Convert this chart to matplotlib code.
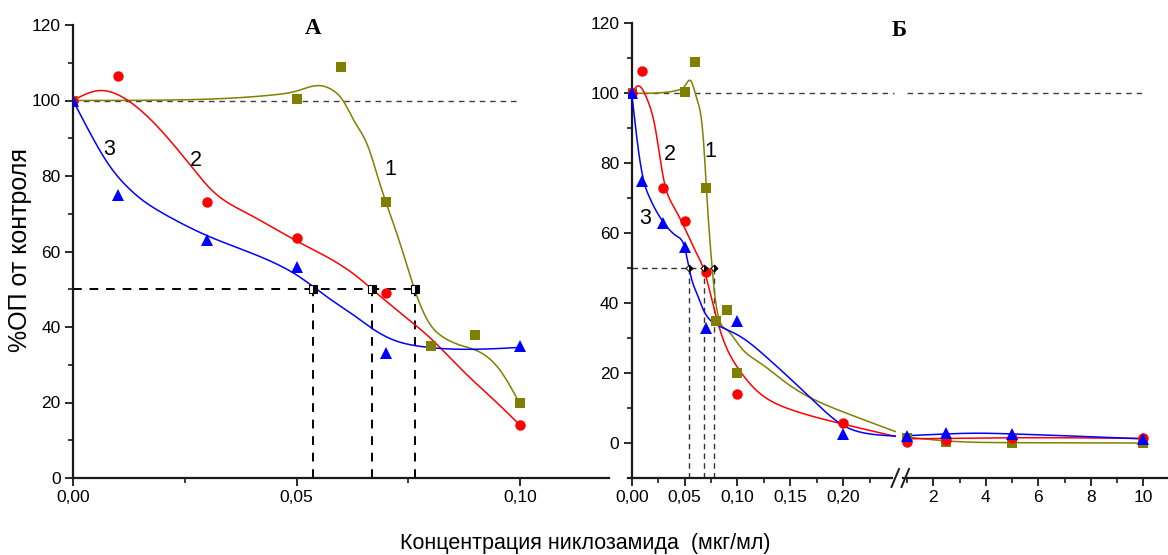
import numpy as np
import matplotlib
matplotlib.use('Agg')
import matplotlib.pyplot as plt
from matplotlib.lines import Line2D
from matplotlib import font_manager

# measured points, %OD of control vs niclosamide concentration (mcg/ml)
conc_1 = [0, 0.05, 0.06, 0.07, 0.08, 0.09, 0.10, 1, 2.5, 5, 10]
od_1 = [100, 100.5, 109, 73, 35, 38, 20, 1.5, 0.2, 0, 0]
conc_2 = [0, 0.01, 0.03, 0.05, 0.07, 0.10, 0.20, 1, 2.5, 5, 10]
od_2 = [100, 106.5, 73, 63.5, 49, 14, 5.8, 0.3, 0.9, 1.4, 1.5]
conc_3 = [0, 0.01, 0.03, 0.05, 0.07, 0.10, 0.20, 1, 2.5, 5, 10]
od_3 = [100, 75, 63, 56, 33, 35, 2.6, 2.1, 3.0, 2.7, 1.2]

# smoothed curves, panel A
fitA1_x = [0, 0.02, 0.035, 0.045, 0.05, 0.0556, 0.058, 0.0604, 0.0628, 0.066, 0.0684,
           0.07, 0.0724, 0.0748, 0.0764, 0.08, 0.0827, 0.0866, 0.09, 0.0955, 0.10]
fitA1_y = [100, 100.1, 100.6, 101.5, 102.5, 103.9, 102.8, 100, 94.8, 87.8, 78.9,
           73.1, 64.9, 56, 50, 40.5, 37.4, 35.2, 33.9, 28.6, 19.6]
fitA2_x = [0, 0.0056, 0.0123, 0.0196, 0.0265, 0.031, 0.039, 0.05, 0.0636, 0.0668,
           0.0735, 0.08, 0.0867, 0.0955, 0.10]
fitA2_y = [100, 102.6, 100, 92.2, 82.5, 76.3, 70.1, 62.8, 53.3, 50.1, 43.5, 37,
           29, 19.2, 14]
fitA3_x = [0, 0.004, 0.008, 0.012, 0.016, 0.02, 0.025, 0.03, 0.039, 0.045, 0.05,
           0.058, 0.062, 0.0668, 0.0712, 0.0781, 0.0867, 0.10]
fitA3_y = [100, 91, 83, 77.3, 73.2, 70.2, 67, 64.2, 60, 57, 53.8, 47, 43.8, 39.7,
           36.8, 34.8, 34.1, 34.6]

# smoothed curves, panel Б (left part up to the break, right part 1..10)
fitB1_x = [0, 0.03, 0.045, 0.05, 0.056, 0.061, 0.068, 0.0706, 0.0734, 0.0759, 0.0787,
           0.0819, 0.0898, 0.1024, 0.1213, 0.1465, 0.199, 0.249]
fitB1_y = [100, 100.2, 101, 102, 103.5, 99, 85.7, 72.7, 60, 50.5, 41.9, 36.2, 32.4,
           27.6, 22.9, 17.1, 9.0, 3.3]
fitB2_x = [0, 0.006, 0.015, 0.022, 0.027, 0.031, 0.0397, 0.0468, 0.0539, 0.06,
           0.068, 0.077, 0.0866, 0.096, 0.1055, 0.117, 0.13, 0.15, 0.175, 0.2, 0.249]
fitB2_y = [100, 102.1, 98, 90.5, 81, 74.3, 67.6, 63.5, 59, 55, 49.7, 39.5, 29.5,
           23.5, 19.3, 15.3, 12.3, 9.6, 7.3, 5.4, 1.9]
fitB3_x = [0, 0.003, 0.006, 0.009, 0.012, 0.016, 0.022, 0.0298, 0.0433, 0.0504,
           0.0535, 0.058, 0.0614, 0.0677, 0.074, 0.0835, 0.1024, 0.1276, 0.153, 0.174,
           0.199, 0.225, 0.249]
fitB3_y = [100, 92, 84.5, 78.5, 74.2, 70.8, 67, 63.2, 59, 55.5, 51, 45.5, 42.9, 38.1,
           35.2, 33.3, 30.5, 24.5, 17.5, 11.5, 5.2, 2.6, 2.0]
fitC1_x = [1, 2.5, 5, 10]
fitC1_y = [1.7, 0.6, 0.1, 0]
fitC2_x = [1, 2.5, 5, 10]
fitC2_y = [1.2, 1.3, 1.5, 1.3]
fitC3_x = [1, 2.5, 3.5, 5, 10]
fitC3_y = [2.1, 2.6, 2.8, 2.6, 1.2]

# IC50 read-offs
ic50_A = [0.0538, 0.0668, 0.0764]
ic50_B = [0.0542, 0.068, 0.0775]

xticksA = [0, 0.05, 0.10]
xlabelsA = ['0,00', '0,05', '0,10']
xticksB = [0, 0.05, 0.10, 0.15, 0.20]
xlabelsB = ['0,00', '0,05', '0,10', '0,15', '0,20']
xticksC = [2, 4, 6, 8, 10]

OLIVE = '#808000'
RED = '#ff0000'
BLUE = '#0000ff'

names = {f.name for f in font_manager.fontManager.ttflist}
if 'Liberation Sans Narrow' in names:
    tick_font, tick_size = 'Liberation Sans Narrow', 14.5
else:
    tick_font, tick_size = 'Liberation Sans', 12.5
plt.rcParams['font.family'] = [tick_font, 'DejaVu Sans']


def spline(xk, yk, xs):
    # natural cubic spline through the knots
    xk = np.asarray(xk, float)
    yk = np.asarray(yk, float)
    n = len(xk)
    h = np.diff(xk)
    A = np.zeros((n, n))
    r = np.zeros(n)
    A[0, 0] = A[-1, -1] = 1
    for i in range(1, n - 1):
        A[i, i - 1] = h[i - 1]
        A[i, i] = 2 * (h[i - 1] + h[i])
        A[i, i + 1] = h[i]
        r[i] = 6 * ((yk[i + 1] - yk[i]) / h[i] - (yk[i] - yk[i - 1]) / h[i - 1])
    M = np.linalg.solve(A, r)
    i = np.clip(np.searchsorted(xk, xs) - 1, 0, n - 2)
    a = xk[i + 1] - xs
    b = xs - xk[i]
    hi = h[i]
    return (M[i] * a**3 / (6 * hi) + M[i + 1] * b**3 / (6 * hi)
            + (yk[i] / hi - M[i] * hi / 6) * a + (yk[i + 1] / hi - M[i + 1] * hi / 6) * b)


def curve(ax, xk, yk, color):
    xs = np.linspace(xk[0], xk[-1], 500)
    ax.plot(xs, spline(xk, yk, xs), color=color, lw=1.1, zorder=3)


def points(ax):
    ax.plot(conc_1, od_1, 's', color=OLIVE, ms=6.5, mew=0, zorder=4)
    ax.plot(conc_2, od_2, 'o', color=RED, ms=7.5, mew=0, zorder=4)
    ax.plot(conc_3, od_3, '^', color=BLUE, ms=8.5, mew=0, zorder=4)


def style(ax):
    for s in ('top', 'right'):
        ax.spines[s].set_visible(False)
    for s in ('left', 'bottom'):
        ax.spines[s].set_linewidth(1.6)
        ax.spines[s].set_color('#1a1a1a')
    ax.tick_params(which='major', direction='out', length=6, width=1.3,
                   labelsize=tick_size, pad=3, color='#1a1a1a')
    ax.tick_params(which='minor', direction='out', length=3.5, width=1.2,
                   color='#1a1a1a')


W, H = 1168, 555
fig = plt.figure(figsize=(W / 100, H / 100), dpi=100)


def box(x0, x1, y0, y1):
    return [x0 / W, 1 - y1 / H, (x1 - x0) / W, (y1 - y0) / H]


# ---- panel A ----
axA = fig.add_axes(box(73, 609.4, 25, 478))
style(axA)
axA.set_xlim(0, 0.12)
axA.set_ylim(0, 120)
axA.set_xticks(xticksA)
axA.set_xticklabels(xlabelsA)
axA.set_xticks([0.025, 0.075], minor=True)
axA.set_yticks(range(0, 121, 20))
axA.set_yticks(range(10, 120, 20), minor=True)

axA.plot([0, 0.10], [100, 100], color='0.25', lw=1.0, ls=(0, (4, 3.5)), zorder=1)
axA.plot([0, ic50_A[-1]], [50, 50], color='black', lw=1.4, ls=(0, (4.5, 4)), zorder=2)
for xv in ic50_A:
    axA.plot([xv, xv], [0, 50], color='black', lw=1.4, ls=(0, (4.5, 4)), zorder=2)
curve(axA, fitA1_x, fitA1_y, OLIVE)
curve(axA, fitA2_x, fitA2_y, RED)
curve(axA, fitA3_x, fitA3_y, BLUE)
points(axA)
axA.plot(ic50_A, [50] * 3, 's', ms=6, fillstyle='right', mfc='black', mfcalt='white',
         mec='black', mew=0.8, zorder=5)

for txt, xv, yv in [('3', 0.0081, 86.9), ('2', 0.0275, 84.2), ('1', 0.0709, 81.6)]:
    axA.text(xv, yv, txt, fontsize=15.5, ha='center', va='center')

# ---- panel Б, left of the break ----
axB = fig.add_axes(box(628, 900, 23.3, 478))
style(axB)
axB.set_xlim(-0.0035, 0.2536)
axB.set_ylim(-10, 120)
axB.spines['left'].set_position(('data', 0))
axB.spines['bottom'].set_bounds(-0.0035, 0.2465)
axB.set_xticks(xticksB)
axB.set_xticklabels(xlabelsB)
axB.set_xticks([0.025, 0.075, 0.125, 0.175, 0.225], minor=True)
axB.set_yticks(range(0, 121, 20))
axB.set_yticks(range(-10, 120, 20), minor=True)

axB.plot([0, 0.248], [100, 100], color='0.25', lw=1.0, ls=(0, (4, 3.5)), zorder=1)
axB.plot([0, ic50_B[-1]], [50, 50], color='0.2', lw=1.0, ls=(0, (4, 3)), zorder=2)
for xv in ic50_B:
    axB.plot([xv, xv], [-10, 50], color='0.2', lw=1.0, ls=(0, (4, 3)), zorder=2)
curve(axB, fitB1_x, fitB1_y, OLIVE)
curve(axB, fitB2_x, fitB2_y, RED)
curve(axB, fitB3_x, fitB3_y, BLUE)
points(axB)
axB.plot(ic50_B, [50] * 3, 'D', ms=3.5, fillstyle='right', mfc='black', mfcalt='white',
         mec='black', mew=0.7, zorder=5)

for txt, xv, yv in [('2', 0.0362, 82.4), ('1', 0.0744, 83.3), ('3', 0.0131, 64.3)]:
    axB.text(xv, yv, txt, fontsize=15.5, ha='center', va='center')

# ---- panel Б, right of the break ----
axC = fig.add_axes(box(900, 1168, 23.3, 478))
style(axC)
axC.spines['left'].set_visible(False)
axC.set_xlim(0.733, 10.94)
axC.set_ylim(-10, 120)
axC.spines['bottom'].set_bounds(0.85, 10.94)
axC.set_yticks([])
axC.set_xticks(xticksC)
axC.set_xticks([1, 3, 5, 7, 9], minor=True)
axC.patch.set_visible(False)

axC.plot([1, 10], [100, 100], color='0.25', lw=1.0, ls=(0, (4, 3.5)), zorder=1)
curve(axC, fitC1_x, fitC1_y, OLIVE)
curve(axC, fitC2_x, fitC2_y, RED)
curve(axC, fitC3_x, fitC3_y, BLUE)
points(axC)

# axis break marks
for x0 in (891.5, 901.5):
    fig.add_artist(Line2D([x0 / W, (x0 + 7.5) / W], [1 - 487 / H, 1 - 469 / H],
                          color='#1a1a1a', lw=1.4))

# titles and axis labels
fig.text(313.5 / W, 1 - 29 / H, 'А', ha='center', va='center', fontsize=16.5,
         fontweight='bold', family=['Liberation Serif', 'DejaVu Serif'])
fig.text(898.7 / W, 1 - 30 / H, 'Б', ha='center', va='center', fontsize=16.5,
         fontweight='bold', family=['Liberation Serif', 'DejaVu Serif'])
fig.text(20 / W, 1 - 250 / H, '%ОП от контроля', rotation=90, ha='center',
         va='center', fontsize=18, family=['Liberation Sans', 'DejaVu Sans'])
fig.text(585 / W, 1 - 543 / H, 'Концентрация никлозамида  (мкг/мл)', ha='center',
         va='center', fontsize=15.5)

fig.savefig('out.png', dpi=100, facecolor='white')
